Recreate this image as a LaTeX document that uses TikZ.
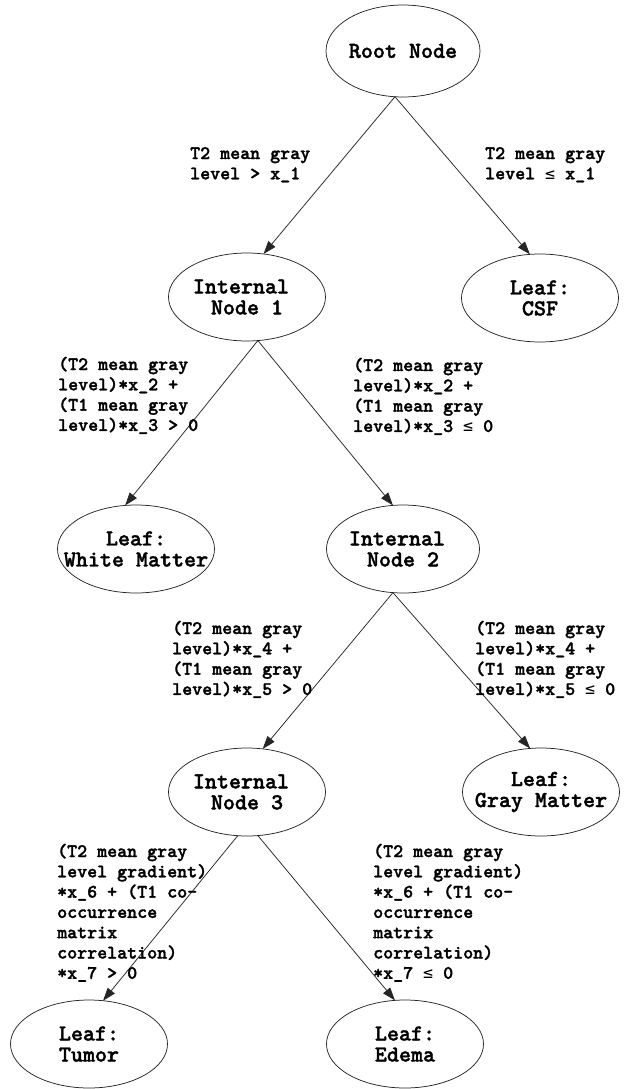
\documentclass[tikz,border=0pt]{standalone}
\usepackage{fontspec}
\usetikzlibrary{arrows.meta,shapes.geometric}
% dark typewriter face for all labels, plus a mono face that has the <= sign
\newfontfamily\treefont{lmmonolt10-bold.otf}[FakeBold=1.6]
\newfontfamily\symmono{DejaVu Sans Mono}
% less-or-equal sign sized to one typewriter cell
\newcommand{\lteq}{\makebox[0.525em]{\symmono\fontsize{16.6}{20}\selectfont ≤}}
\begin{document}
\begin{tikzpicture}[x=1pt,y=-1pt,
  tnode/.style={ellipse, draw=black!85, line width=0.75pt, inner sep=0pt, outer sep=0pt,
    minimum width=157pt, minimum height=88pt},
  ntext/.style={font=\treefont\fontsize{22.9}{21}\selectfont, align=center, inner sep=0pt},
  cond/.style={font=\treefont\fontsize{19.05}{20.3}\selectfont, align=left,
    anchor=base west, inner sep=0pt},
  link/.style={draw=black!85, line width=0.75pt, -{Triangle[length=13pt,width=9pt]}}]
\useasboundingbox (0,0) rectangle (627,1089);

% decision and leaf nodes
\node[tnode, minimum width=154pt, minimum height=92pt,
  label={[ntext]center:{Root Node}}] (root) at (403,51) {};
\node[tnode, label={[ntext]center:{Internal\hphantom{x}\\Node 1}}] (n1) at (247,297) {};
\node[tnode, label={[ntext]center:{Leaf:\\CSF}}] (csf) at (540,298) {};
\node[tnode, label={[ntext]center:{Leaf:\\White Matter}}] (wm) at (136,549) {};
\node[tnode, minimum width=153pt, label={[ntext]center:{Internal\hphantom{x}\\Node 2}}] (n2) at (403,549) {};
\node[tnode, label={[ntext]center:{Internal\hphantom{x}\\Node 3}}] (n3) at (247,792) {};
\node[tnode, label={[ntext]center:{Leaf:\\Gray Matter}}] (gm) at (541,792) {};
\node[tnode, label={[ntext]center:{Leaf:\\Tumor}}] (tumor) at (89,1044) {};
\node[tnode, label={[ntext]center:{Leaf:\\Edema}}] (edema) at (405,1044) {};

% branches
\draw[link] (root.260) -- (n1.69);
\draw[link] (root.260) -- (csf.103);
\draw[link] (n1.284) -- (wm.104);
\draw[link] (n1.284) -- (n2.103);
\draw[link] (n2.257) -- (n3.70);
\draw[link] (n2.257) -- (gm.104);
\draw[link] (n3.258) -- (tumor.72);
\draw[link] (n3.284) -- (edema.103);

% split conditions (anchored at the baseline of the last line)
\node[cond] (c1) at (190,179.3) {T2 mean gray\\level > x\_1};
\node[cond] (c2) at (485,179.3) {T2 mean gray\\level \lteq{} x\_1};
\node[cond] (c3) at (58,430.9) {(T2 mean gray\\level)*x\_2 +\\(T1 mean gray\\level)*x\_3 > 0};
\node[cond] (c4) at (353,431.9) {(T2 mean gray\\level)*x\_2 +\\(T1 mean gray\\level)*x\_3 \lteq{} 0};
\node[cond] (c5) at (172,694.9) {(T2 mean gray\\level)*x\_4 +\\(T1 mean gray\\level)*x\_5 > 0};
\node[cond] (c6) at (475,694.9) {(T2 mean gray\\level)*x\_4 +\\(T1 mean gray\\level)*x\_5 \lteq{} 0};
\node[cond] (c7) at (57,978.8) {(T2 mean gray\\level gradient)\\*x\_6 + (T1 co-\\occurrence\\matrix\\correlation)\\*x\_7 > 0};
\node[cond] (c8) at (373,978.8) {(T2 mean gray\\level gradient)\\*x\_6 + (T1 co-\\occurrence\\matrix\\correlation)\\*x\_7 \lteq{} 0};
\end{tikzpicture}
\end{document}
